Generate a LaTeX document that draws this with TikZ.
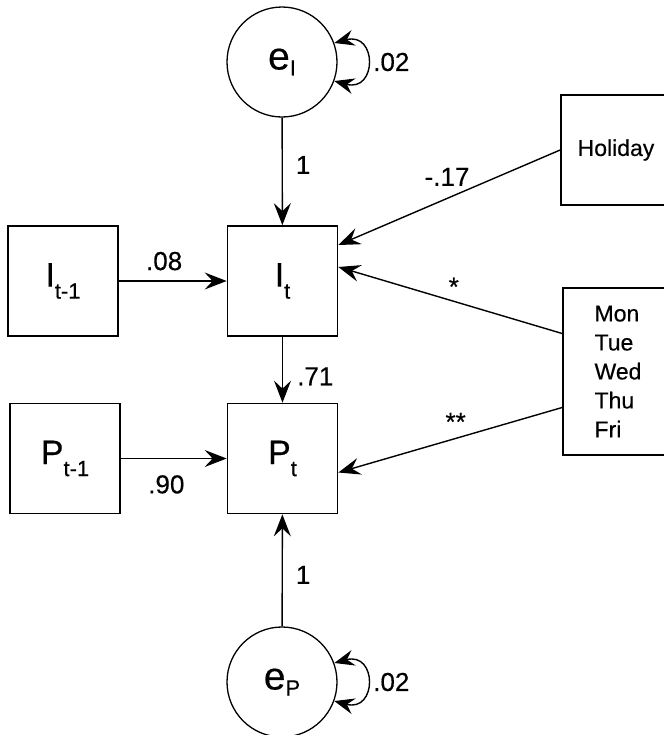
\documentclass[tikz,border=0pt]{standalone}
\usepackage{fontspec}
\setmainfont{Liberation Sans}[FakeBold=0.4]
\usetikzlibrary{arrows.meta}
\newcommand{\lowsub}[2][6pt]{\raisebox{-#1}{\fontsize{11}{11}\selectfont #2}}

\begin{document}
\begin{tikzpicture}[x=0.5pt, y=-0.5pt,
    box/.style={draw, line width=0.85pt, minimum size=55pt, inner sep=0pt, font=\fontsize{17}{19}\selectfont},
    err/.style={draw, circle, line width=0.65pt, minimum size=55pt, inner sep=0pt, font=\fontsize{19.5}{20}\selectfont},
    lbl/.style={inner sep=0pt, font=\fontsize{13}{15}\selectfont},
    link/.style={line width=0.7pt, -{Stealth[length=11pt, width=8.5pt, inset=4pt]}},
    twin/.style={line width=0.7pt, {Stealth[length=10pt, width=8pt, inset=3.5pt]}-{Stealth[length=10pt, width=8pt, inset=3.5pt]}}]
  \useasboundingbox (0,0) rectangle (664,735);
  % error terms
  \node[err] (eI) at (282,62) {e\lowsub[3pt]{I}};
  \node[err] (eP) at (282,682) {e\lowsub[3pt]{P}};
  % observed variables
  \node[box] (Im) at (63,281) {I\lowsub{t-1}};
  \node[box] (It) at (282.5,281) {I\lowsub{t}};
  \node[box] (Pm) at (65,458.5) {P\lowsub{t-1}};
  \node[box] (Pt) at (282.5,458.5) {P\lowsub{t}};
  \node[box, font=\fontsize{11.5}{13}\selectfont] (hol) at (616,150) {Holiday};
  \node[box, minimum height=83.5pt, align=left, font=\fontsize{11.5}{14.5}\selectfont] (days) at (618,371.5) {Mon\\Tue\\Wed\\Thu\\Fri};
  % variances
  \draw[twin] (eI.20) to[out=15, in=-15, looseness=3] node[lbl, right=3pt] {.02} (eI.-20);
  \draw[twin] (eP.20) to[out=15, in=-15, looseness=3] node[lbl, right=3pt] {.02} (eP.-20);
  % paths
  \draw[link] (eI) -- node[lbl, pos=0.44, right=6.5pt] {1} (It);
  \draw[link] (Im) -- node[lbl, pos=0.42, above=5pt] {.08} (It);
  \draw[link] (It) -- node[lbl, pos=0.6, right=7pt] {.71} (Pt);
  \draw[link] (Pm) -- node[lbl, pos=0.43, below=8pt] {.90} (Pt);
  \draw[link] (eP) -- node[lbl, pos=0.46, right=6.5pt] {1} (Pt);
  \draw[link] (hol.west) -- node[lbl, pos=0.51, above=6pt] {-.17} ([yshift=18pt]It.east);
  \draw[link] ([yshift=19pt]days.west) -- node[lbl, pos=0.484, above=2.5pt] {*} ([yshift=7pt]It.east);
  \draw[link] ([yshift=-18pt]days.west) -- node[lbl, pos=0.476, above=3.5pt] {**} ([yshift=-7pt]Pt.east);
\end{tikzpicture}
\end{document}
